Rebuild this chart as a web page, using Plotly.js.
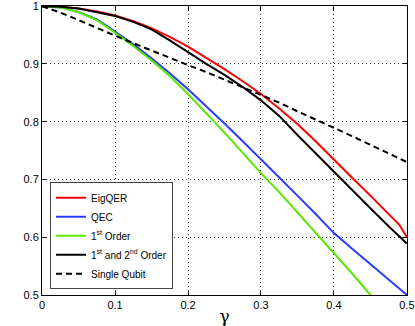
<!DOCTYPE html>
<html>
<head>
<meta charset="utf-8">
<script src="https://cdn.plot.ly/plotly-3.0.1.min.js"></script>
<style>
  html, body { margin: 0; padding: 0; background: #fff; }
  #chart { width: 415px; height: 326px; }
</style>
</head>
<body>
<div id="chart"></div>
<script>
// gamma values shared by every curve
const gamma = [0, 0.025, 0.05, 0.075, 0.1, 0.125, 0.15, 0.175, 0.2, 0.225, 0.25,
  0.275, 0.3, 0.325, 0.35, 0.375, 0.4, 0.425, 0.45, 0.475, 0.49, 0.5];

const eigQER = [1, 0.999, 0.996, 0.991, 0.984, 0.974, 0.962, 0.947, 0.93, 0.911, 0.891,
  0.87, 0.848, 0.823, 0.796, 0.766, 0.734, 0.703, 0.672, 0.641, 0.621, 0.6];

const qec = [1, 0.998, 0.99, 0.977, 0.956, 0.934, 0.91, 0.884, 0.856, 0.827, 0.797,
  0.766, 0.735, 0.704, 0.672, 0.64, 0.607, 0.58, 0.553, 0.527, 0.511, 0.5];

const firstOrder = [1, 0.998, 0.99, 0.976, 0.954, 0.931, 0.906, 0.879, 0.848, 0.815, 0.781,
  0.746, 0.711, 0.678, 0.643, 0.608, 0.573, 0.537, 0.5, 0.462, 0.44, 0.425];

const firstSecondOrder = [1, 0.999, 0.996, 0.99, 0.983, 0.973, 0.96, 0.941, 0.92, 0.9, 0.881,
  0.86, 0.837, 0.81, 0.777, 0.745, 0.713, 0.681, 0.65, 0.619, 0.601, 0.589];

const singleQubit = [1, 0.989, 0.976, 0.962, 0.949, 0.936, 0.923, 0.911, 0.898, 0.886, 0.873,
  0.86, 0.847, 0.833, 0.818, 0.804, 0.789, 0.775, 0.76, 0.745, 0.736, 0.73];

const xTicks = [0, 0.1, 0.2, 0.3, 0.4, 0.5];
const yTicks = [0.5, 0.6, 0.7, 0.8, 0.9, 1];

const FONT = "Liberation Sans, Arial, sans-serif";

function line(y, name, color, dash) {
  return {
    x: gamma,
    y: y,
    name: name,
    type: "scatter",
    mode: "lines",
    line: { color: color, width: 2, dash: dash || "solid" },
  };
}

const traces = [
  line(eigQER, "EigQER", "#ff0000"),
  line(qec, "QEC", "#2a3cff"),
  line(firstOrder, "1<sup>st</sup> Order", "#5be600"),
  line(firstSecondOrder, "1<sup>st</sup> and 2<sup>nd</sup> Order", "#000000"),
  line(singleQubit, "Single Qubit", "#000000", "6px,4px"),
];

const axisStyle = {
  showline: true,
  linecolor: "#000",
  linewidth: 1,
  mirror: "ticks",
  ticks: "inside",
  ticklen: 4,
  tickcolor: "#000",
  showgrid: true,
  gridcolor: "#333",
  griddash: "1px,3px",
  gridwidth: 1,
  zeroline: false,
  tickfont: { family: FONT, size: 11, color: "#000" },
};

const layout = {
  width: 415,
  height: 326,
  margin: { l: 42, r: 8, t: 6, b: 31 },
  paper_bgcolor: "#fff",
  plot_bgcolor: "#fff",
  font: { family: FONT, size: 11, color: "#000" },
  showlegend: true,
  legend: {
    x: 0.022,
    y: 0.02,
    xanchor: "left",
    yanchor: "bottom",
    bgcolor: "#fff",
    bordercolor: "#444",
    borderwidth: 1,
    font: { family: FONT, size: 10, color: "#000" },
    tracegroupgap: 0,
    itemwidth: 30,
  },
  xaxis: Object.assign({}, axisStyle, {
    range: [-0.0002, 0.5002],
    tickvals: xTicks,
    ticktext: xTicks.map(String),
    title: { text: "γ", font: { family: "DejaVu Serif, serif", size: 17, color: "#000" }, standoff: 3 },
  }),
  yaxis: Object.assign({}, axisStyle, {
    range: [0.4998, 1.0004],
    tickvals: yTicks,
    ticktext: yTicks.map(String),
  }),
};

Plotly.newPlot("chart", traces, layout, { displayModeBar: false, staticPlot: true });
</script>
</body>
</html>
